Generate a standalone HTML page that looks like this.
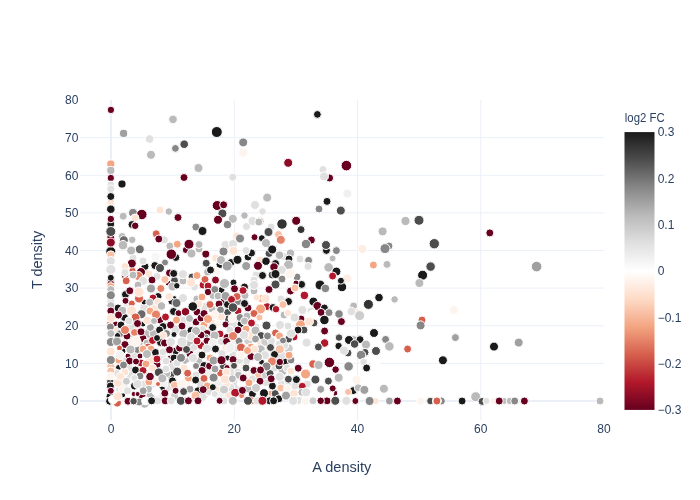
<!DOCTYPE html>
<html><head><meta charset="utf-8"><style>
html,body{margin:0;padding:0;background:#fff;width:700px;height:500px;overflow:hidden}
svg{display:block;will-change:transform}
text{font-family:"Liberation Sans",sans-serif;fill:#2a3f5f;font-size:12px}
</style></head><body>
<svg width="700" height="500" viewBox="0 0 700 500">
<defs><linearGradient id="cb" x1="0" y1="0" x2="0" y2="1"><stop offset="0.0" stop-color="rgb(26, 26, 26)"/><stop offset="0.1" stop-color="rgb(77, 77, 77)"/><stop offset="0.2" stop-color="rgb(135, 135, 135)"/><stop offset="0.3" stop-color="rgb(186, 186, 186)"/><stop offset="0.4" stop-color="rgb(224, 224, 224)"/><stop offset="0.5" stop-color="rgb(255, 255, 255)"/><stop offset="0.6" stop-color="rgb(253, 219, 199)"/><stop offset="0.7" stop-color="rgb(244, 165, 130)"/><stop offset="0.8" stop-color="rgb(214, 96, 77)"/><stop offset="0.9" stop-color="rgb(178, 24, 43)"/><stop offset="1.0" stop-color="rgb(103, 0, 31)"/></linearGradient>
<clipPath id="pa"><rect x="80" y="100" width="524" height="320"/></clipPath></defs>
<rect width="700" height="500" fill="#fff"/>
<g stroke="#ebf0f8" stroke-width="1"><line x1="80" x2="604" y1="363.38" y2="363.38"/><line x1="80" x2="604" y1="325.75" y2="325.75"/><line x1="80" x2="604" y1="288.12" y2="288.12"/><line x1="80" x2="604" y1="250.50" y2="250.50"/><line x1="80" x2="604" y1="212.88" y2="212.88"/><line x1="80" x2="604" y1="175.25" y2="175.25"/><line x1="80" x2="604" y1="137.62" y2="137.62"/><line y1="100" y2="420" x1="234.25" x2="234.25"/><line y1="100" y2="420" x1="357.50" x2="357.50"/><line y1="100" y2="420" x1="480.75" x2="480.75"/></g>
<g stroke="#ebf0f8" stroke-width="2"><line x1="111" x2="111" y1="100" y2="420"/><line x1="80" x2="604" y1="401" y2="401"/></g>
<g clip-path="url(#pa)" stroke="#fff" stroke-width="1"><circle cx="181.5" cy="382.5" r="4.75" fill="#fee4d5"/><circle cx="156.5" cy="392.5" r="4.75" fill="#cdcdcd"/><circle cx="261.5" cy="344.5" r="4.75" fill="#fee4d5"/><circle cx="119.5" cy="354.5" r="4.75" fill="#fee4d5"/><circle cx="232.5" cy="319.5" r="4.75" fill="#cdcdcd"/><circle cx="208.5" cy="397.5" r="4.75" fill="#ffffff"/><circle cx="183.5" cy="333.5" r="4.75" fill="#bababa"/><circle cx="240.5" cy="355.5" r="4.75" fill="#f0f0f0"/><circle cx="288.5" cy="348.5" r="4.75" fill="#cdcdcd"/><circle cx="293.5" cy="393.5" r="4.75" fill="#fee4d5"/><circle cx="288.5" cy="386.5" r="4.75" fill="#e0e0e0"/><circle cx="139.5" cy="306.5" r="4.75" fill="#ffffff"/><circle cx="218.5" cy="383.5" r="4.75" fill="#f0f0f0"/><circle cx="236.5" cy="384.5" r="4.75" fill="#e0e0e0"/><circle cx="226.5" cy="348.5" r="4.75" fill="#fee4d5"/><circle cx="215.5" cy="313.5" r="4.75" fill="#fef4ee"/><circle cx="232.5" cy="344.5" r="4.75" fill="#f0f0f0"/><circle cx="212.5" cy="341.5" r="4.75" fill="#e0e0e0"/><circle cx="248.5" cy="340.5" r="4.75" fill="#cdcdcd"/><circle cx="187.5" cy="362.5" r="4.75" fill="#bababa"/><circle cx="232.5" cy="324.5" r="4.75" fill="#e0e0e0"/><circle cx="171.5" cy="366.5" r="4.75" fill="#e0e0e0"/><circle cx="181.5" cy="377.5" r="4.75" fill="#ffffff"/><circle cx="218.5" cy="322.5" r="4.75" fill="#f0f0f0"/><circle cx="227.5" cy="395.5" r="4.75" fill="#fee4d5"/><circle cx="120.5" cy="389.5" r="4.75" fill="#e0e0e0"/><circle cx="144.5" cy="403.5" r="4.75" fill="#bababa"/><circle cx="252.5" cy="363.5" r="4.75" fill="#ffffff"/><circle cx="232.5" cy="371.5" r="4.75" fill="#e0e0e0"/><circle cx="208.5" cy="372.5" r="4.75" fill="#f0f0f0"/><circle cx="190.5" cy="366.5" r="4.75" fill="#ffffff"/><circle cx="168.5" cy="386.5" r="4.75" fill="#e0e0e0"/><circle cx="133.5" cy="338.5" r="4.75" fill="#cdcdcd"/><circle cx="281.5" cy="355.5" r="4.75" fill="#e0e0e0"/><circle cx="134.5" cy="355.5" r="4.75" fill="#e0e0e0"/><circle cx="233.5" cy="349.5" r="4.75" fill="#e0e0e0"/><circle cx="260.5" cy="349.5" r="4.75" fill="#bababa"/><circle cx="148.5" cy="333.5" r="4.75" fill="#bababa"/><circle cx="219.5" cy="327.5" r="4.75" fill="#ffffff"/><circle cx="245.5" cy="361.5" r="4.75" fill="#e0e0e0"/><circle cx="214.5" cy="319.5" r="4.75" fill="#fee4d5"/><circle cx="144.5" cy="307.5" r="4.75" fill="#e0e0e0"/><circle cx="155.5" cy="307.5" r="4.75" fill="#fee4d5"/><circle cx="166.5" cy="310.5" r="4.75" fill="#ffffff"/><circle cx="138.5" cy="343.5" r="4.75" fill="#bababa"/><circle cx="265.5" cy="341.5" r="4.75" fill="#cdcdcd"/><circle cx="189.5" cy="343.5" r="4.75" fill="#bababa"/><circle cx="203.5" cy="396.5" r="4.75" fill="#e0e0e0"/><circle cx="248.5" cy="374.5" r="4.75" fill="#fef4ee"/><circle cx="250.5" cy="335.5" r="4.75" fill="#fee4d5"/><circle cx="175.5" cy="329.5" r="4.75" fill="#e0e0e0"/><circle cx="130.5" cy="326.5" r="4.75" fill="#e0e0e0"/><circle cx="154.5" cy="387.5" r="4.75" fill="#e0e0e0"/><circle cx="150.5" cy="359.5" r="4.75" fill="#fee4d5"/><circle cx="130.5" cy="374.5" r="4.75" fill="#e0e0e0"/><circle cx="214.5" cy="399.5" r="4.25" fill="#fef4ee"/><circle cx="160.5" cy="396.5" r="4.25" fill="#f0f0f0"/><circle cx="174.5" cy="396.5" r="4.25" fill="#cdcdcd"/><circle cx="204.5" cy="306.5" r="4.25" fill="#e0e0e0"/><circle cx="282.5" cy="371.5" r="4.25" fill="#bababa"/><circle cx="240.5" cy="366.5" r="4.25" fill="#fef4ee"/><circle cx="128.5" cy="367.5" r="4.25" fill="#e0e0e0"/><circle cx="198.5" cy="361.5" r="4.25" fill="#bababa"/><circle cx="263.5" cy="375.5" r="4.25" fill="#cdcdcd"/><circle cx="154.5" cy="381.5" r="4.25" fill="#fef4ee"/><circle cx="123.5" cy="357.5" r="4.25" fill="#e0e0e0"/><circle cx="162.5" cy="357.5" r="4.25" fill="#e0e0e0"/><circle cx="241.5" cy="383.5" r="4.25" fill="#ffffff"/><circle cx="143.5" cy="384.5" r="4.25" fill="#e0e0e0"/><circle cx="163.5" cy="384.5" r="4.25" fill="#f0f0f0"/><circle cx="200.5" cy="383.5" r="4.25" fill="#e0e0e0"/><circle cx="186.5" cy="383.5" r="4.25" fill="#fef4ee"/><circle cx="196.5" cy="353.5" r="4.25" fill="#f0f0f0"/><circle cx="123.5" cy="385.5" r="4.25" fill="#e0e0e0"/><circle cx="284.5" cy="345.5" r="4.25" fill="#e0e0e0"/><circle cx="133.5" cy="344.5" r="4.25" fill="#e0e0e0"/><circle cx="230.5" cy="387.5" r="4.25" fill="#e0e0e0"/><circle cx="248.5" cy="388.5" r="4.25" fill="#bababa"/><circle cx="153.5" cy="333.5" r="4.25" fill="#bababa"/><circle cx="208.5" cy="391.5" r="4.25" fill="#e0e0e0"/><circle cx="217.5" cy="390.5" r="4.25" fill="#fee4d5"/><circle cx="187.5" cy="324.5" r="4.25" fill="#f0f0f0"/><circle cx="150.5" cy="394.5" r="4.25" fill="#bababa"/><circle cx="220.5" cy="395.5" r="4.25" fill="#f0f0f0"/><circle cx="126.5" cy="306.5" r="4.25" fill="#f0f0f0"/><circle cx="110.9" cy="109.9" r="3.7" fill="#67001f"/><circle cx="173" cy="119.4" r="4.3" fill="#bababa"/><circle cx="123.6" cy="133.4" r="4.1" fill="#a0a0a0"/><circle cx="149.6" cy="139" r="4.3" fill="#e0e0e0"/><circle cx="184.2" cy="144.2" r="4.3" fill="#4d4d4d"/><circle cx="175.4" cy="148.4" r="3.9" fill="#878787"/><circle cx="151" cy="154.8" r="4.5" fill="#bababa"/><circle cx="198.5" cy="168" r="4.5" fill="#bababa"/><circle cx="110.8" cy="164" r="4.1" fill="#f4a582"/><circle cx="110.8" cy="170.4" r="4.1" fill="#bababa"/><circle cx="110.8" cy="178" r="3.7" fill="#67001f"/><circle cx="184" cy="177.5" r="4" fill="#67001f"/><circle cx="122" cy="184" r="4.1" fill="#1a1a1a"/><circle cx="216.8" cy="132" r="5.5" fill="#1a1a1a"/><circle cx="243.2" cy="142.4" r="4.5" fill="#878787"/><circle cx="243.2" cy="152.6" r="4.5" fill="#fef4ee"/><circle cx="288.2" cy="162.8" r="4.5" fill="#8c0c25"/><circle cx="232.8" cy="177.2" r="4" fill="#e0e0e0"/><circle cx="267.2" cy="197.6" r="4.5" fill="#bababa"/><circle cx="317.4" cy="114.4" r="3.9" fill="#1a1a1a"/><circle cx="346.4" cy="165.6" r="5.3" fill="#67001f"/><circle cx="323" cy="169.6" r="4" fill="#e0e0e0"/><circle cx="329.6" cy="178" r="4" fill="#67001f"/><circle cx="324" cy="176.4" r="4.5" fill="#e0e0e0"/><circle cx="347.4" cy="193.6" r="4.5" fill="#f0f0f0"/><circle cx="405.5" cy="221" r="4.6" fill="#bababa"/><circle cx="419" cy="220.3" r="5" fill="#4d4d4d"/><circle cx="434.3" cy="243.7" r="5.2" fill="#4d4d4d"/><circle cx="489.8" cy="232.9" r="4" fill="#67001f"/><circle cx="536.6" cy="266.6" r="5.3" fill="#a0a0a0"/><circle cx="110.8" cy="185" r="4" fill="#e0e0e0"/><circle cx="110.8" cy="188.8" r="4" fill="#e0e0e0"/><circle cx="110.8" cy="202.2" r="4" fill="#fee4d5"/><circle cx="110.8" cy="196.5" r="4" fill="#1a1a1a"/><circle cx="110.8" cy="214.5" r="4" fill="#ffffff"/><circle cx="110.8" cy="209.2" r="4.25" fill="#1a1a1a"/><circle cx="110.8" cy="224" r="4" fill="#1a1a1a"/><circle cx="110.8" cy="219" r="3.75" fill="#67001f"/><circle cx="123.2" cy="216.2" r="4" fill="#bababa"/><circle cx="133" cy="212.8" r="4.5" fill="#878787"/><circle cx="141.8" cy="214.5" r="5.25" fill="#67001f"/><circle cx="135" cy="218" r="4" fill="#fee4d5"/><circle cx="132" cy="224.5" r="4" fill="#1a1a1a"/><circle cx="135.2" cy="225.8" r="3.75" fill="#67001f"/><circle cx="160" cy="210" r="4" fill="#fee4d5"/><circle cx="168.8" cy="211.5" r="3.75" fill="#bababa"/><circle cx="178" cy="217.5" r="4" fill="#67001f"/><circle cx="195.8" cy="227" r="4" fill="#878787"/><circle cx="217.2" cy="205.5" r="5" fill="#67001f"/><circle cx="223.6" cy="204.8" r="4" fill="#67001f"/><circle cx="222.4" cy="213.5" r="4.5" fill="#4d4d4d"/><circle cx="218" cy="219.8" r="4.5" fill="#67001f"/><circle cx="232.8" cy="218.8" r="4.5" fill="#bababa"/><circle cx="227.5" cy="224.6" r="4.25" fill="#878787"/><circle cx="244.5" cy="215.5" r="3.75" fill="#bababa"/><circle cx="246.5" cy="226.5" r="4" fill="#e0e0e0"/><circle cx="255" cy="205" r="4.5" fill="#e0e0e0"/><circle cx="262.5" cy="211.5" r="3.75" fill="#e0e0e0"/><circle cx="252.5" cy="221" r="4.5" fill="#e0e0e0"/><circle cx="260" cy="221.5" r="4" fill="#d6604d"/><circle cx="258.8" cy="222" r="4" fill="#bababa"/><circle cx="282" cy="224" r="5.25" fill="#333333"/><circle cx="296.2" cy="220.8" r="4.5" fill="#67001f"/><circle cx="271" cy="227" r="4" fill="#e0e0e0"/><circle cx="327" cy="201.4" r="4" fill="#1a1a1a"/><circle cx="319" cy="209" r="4" fill="#878787"/><circle cx="340.8" cy="210.6" r="4.5" fill="#4d4d4d"/><circle cx="301" cy="229.6" r="4" fill="#333333"/><circle cx="311.4" cy="240" r="4" fill="#67001f"/><circle cx="306" cy="244" r="4.75" fill="#878787"/><circle cx="326.4" cy="250.4" r="4" fill="#1a1a1a"/><circle cx="326" cy="245" r="4.5" fill="#4d4d4d"/><circle cx="336.4" cy="250.6" r="4" fill="#878787"/><circle cx="332.6" cy="258.4" r="3.5" fill="#bababa"/><circle cx="308.6" cy="260.4" r="4" fill="#878787"/><circle cx="300" cy="259" r="4" fill="#e0e0e0"/><circle cx="308" cy="266.4" r="4" fill="#e0e0e0"/><circle cx="328.6" cy="267.4" r="4.75" fill="#bababa"/><circle cx="336.4" cy="271.6" r="4.5" fill="#1a1a1a"/><circle cx="332.6" cy="276" r="4" fill="#b2182b"/><circle cx="347" cy="278.6" r="4.5" fill="#feede3"/><circle cx="382.6" cy="231.4" r="4.5" fill="#bababa"/><circle cx="362.4" cy="249" r="4.5" fill="#feede3"/><circle cx="389" cy="246" r="4" fill="#878787"/><circle cx="385" cy="248.6" r="5" fill="#878787"/><circle cx="373.4" cy="265" r="4" fill="#f4a582"/><circle cx="387" cy="264.4" r="4" fill="#bababa"/><circle cx="430.6" cy="266.6" r="4.75" fill="#4d4d4d"/><circle cx="422.6" cy="275.2" r="5" fill="#1a1a1a"/><circle cx="419.4" cy="283" r="4.5" fill="#bababa"/><circle cx="454" cy="310" r="4.5" fill="#fef4ee"/><circle cx="422" cy="320" r="4" fill="#d6604d"/><circle cx="420.6" cy="325.4" r="4.5" fill="#878787"/><circle cx="455.4" cy="337.6" r="4" fill="#a0a0a0"/><circle cx="407.6" cy="349" r="4" fill="#d6604d"/><circle cx="494" cy="346.6" r="4.5" fill="#1a1a1a"/><circle cx="518.7" cy="342.6" r="4.5" fill="#a0a0a0"/><circle cx="420.7" cy="401" r="4" fill="#fef4ee"/><circle cx="430.4" cy="401" r="3.75" fill="#4d4d4d"/><circle cx="441.4" cy="401" r="4" fill="#878787"/><circle cx="436.9" cy="401" r="4.5" fill="#fee4d5"/><circle cx="436.9" cy="401" r="4" fill="#d6604d"/><circle cx="462.1" cy="401" r="4" fill="#1a1a1a"/><circle cx="475.7" cy="396.7" r="5" fill="#bababa"/><circle cx="482.1" cy="401.4" r="4" fill="#4d4d4d"/><circle cx="486.4" cy="401" r="3.5" fill="#e0e0e0"/><circle cx="493.6" cy="401" r="3.5" fill="#fef4ee"/><circle cx="504.1" cy="401" r="3.5" fill="#bababa"/><circle cx="499.2" cy="401" r="4" fill="#67001f"/><circle cx="509.9" cy="401" r="3.75" fill="#bababa"/><circle cx="514.7" cy="401" r="4" fill="#878787"/><circle cx="524.4" cy="401" r="4" fill="#67001f"/><circle cx="600" cy="401" r="4" fill="#bababa"/><circle cx="301.6" cy="284.4" r="4" fill="#1a1a1a"/><circle cx="320" cy="285" r="5" fill="#1a1a1a"/><circle cx="325.4" cy="288.4" r="4.25" fill="#878787"/><circle cx="342" cy="287" r="4.75" fill="#1a1a1a"/><circle cx="340.9" cy="280.7" r="3.5" fill="#1a1a1a"/><circle cx="304.4" cy="295.4" r="4.25" fill="#b2182b"/><circle cx="313.4" cy="301.6" r="4.5" fill="#1a1a1a"/><circle cx="317.4" cy="306" r="4.5" fill="#67001f"/><circle cx="324.4" cy="308" r="4" fill="#1a1a1a"/><circle cx="302.4" cy="310" r="4.5" fill="#e0e0e0"/><circle cx="311" cy="311" r="4" fill="#e0e0e0"/><circle cx="321" cy="312.4" r="4" fill="#67001f"/><circle cx="329" cy="312.6" r="4" fill="#878787"/><circle cx="313" cy="314.4" r="4.5" fill="#ffffff"/><circle cx="301" cy="319" r="4" fill="#67001f"/><circle cx="314" cy="323" r="4" fill="#4d4d4d"/><circle cx="324.4" cy="320" r="4.75" fill="#1a1a1a"/><circle cx="309" cy="321.6" r="4.5" fill="#fee4d5"/><circle cx="300.5" cy="325" r="5" fill="#f4a582"/><circle cx="304" cy="330" r="4" fill="#4d4d4d"/><circle cx="339" cy="314" r="4.25" fill="#878787"/><circle cx="341.4" cy="321.6" r="4" fill="#67001f"/><circle cx="353.6" cy="306" r="4" fill="#bababa"/><circle cx="357" cy="311.6" r="3" fill="#fee4d5"/><circle cx="351.4" cy="311.4" r="4.25" fill="#e0e0e0"/><circle cx="359.6" cy="315.6" r="5" fill="#cdcdcd"/><circle cx="368.4" cy="304.4" r="5" fill="#333333"/><circle cx="379" cy="297.6" r="4.25" fill="#1a1a1a"/><circle cx="394.6" cy="299.4" r="3.75" fill="#bababa"/><circle cx="324.6" cy="331" r="4" fill="#67001f"/><circle cx="374" cy="333" r="4.5" fill="#1a1a1a"/><circle cx="306.6" cy="342.6" r="4.5" fill="#e0e0e0"/><circle cx="324.6" cy="343" r="4.25" fill="#b2182b"/><circle cx="318.4" cy="347" r="4" fill="#4d4d4d"/><circle cx="339" cy="337.6" r="3.75" fill="#4d4d4d"/><circle cx="338.6" cy="346" r="3.75" fill="#1a1a1a"/><circle cx="354" cy="339.6" r="4" fill="#bababa"/><circle cx="349" cy="340" r="4.5" fill="#1a1a1a"/><circle cx="360" cy="339.6" r="4" fill="#1a1a1a"/><circle cx="354.6" cy="344" r="4.25" fill="#4d4d4d"/><circle cx="366" cy="344.6" r="4.5" fill="#bababa"/><circle cx="385.6" cy="339.4" r="4" fill="#878787"/><circle cx="389.4" cy="346.4" r="4.75" fill="#bababa"/><circle cx="348" cy="353" r="4" fill="#4d4d4d"/><circle cx="344" cy="350.6" r="4.5" fill="#e0e0e0"/><circle cx="376" cy="351" r="4.5" fill="#4d4d4d"/><circle cx="365" cy="352.4" r="4" fill="#4d4d4d"/><circle cx="361" cy="355" r="4.75" fill="#878787"/><circle cx="363.6" cy="362" r="3.75" fill="#e0e0e0"/><circle cx="376" cy="361" r="5" fill="#ffffff"/><circle cx="298.2" cy="368.2" r="4" fill="#67001f"/><circle cx="329.4" cy="362.4" r="5.25" fill="#67001f"/><circle cx="313" cy="364" r="4.25" fill="#d6604d"/><circle cx="318.6" cy="365" r="4.5" fill="#bababa"/><circle cx="335.6" cy="369.6" r="3.75" fill="#67001f"/><circle cx="348.6" cy="366.4" r="4.75" fill="#878787"/><circle cx="366.6" cy="368" r="4" fill="#1a1a1a"/><circle cx="305.6" cy="374" r="5" fill="#f4a582"/><circle cx="110.8" cy="237" r="4" fill="#67001f"/><circle cx="110.8" cy="247" r="4" fill="#fee4d5"/><circle cx="110.8" cy="251.5" r="5" fill="#1a1a1a"/><circle cx="122.2" cy="236.5" r="4" fill="#bababa"/><circle cx="133" cy="258" r="4" fill="#e0e0e0"/><circle cx="132.5" cy="270.5" r="3.5" fill="#d6604d"/><circle cx="125" cy="275" r="4" fill="#67001f"/><circle cx="149" cy="274" r="4" fill="#fee4d5"/><circle cx="118" cy="270" r="4" fill="#ffffff"/><circle cx="164.5" cy="239.8" r="4" fill="#e0e0e0"/><circle cx="185.8" cy="250" r="3.5" fill="#67001f"/><circle cx="199" cy="249" r="4" fill="#bababa"/><circle cx="199" cy="244.5" r="4" fill="#bababa"/><circle cx="175.8" cy="257.5" r="4" fill="#1a1a1a"/><circle cx="169.5" cy="273" r="4" fill="#67001f"/><circle cx="157" cy="276.5" r="4" fill="#e0e0e0"/><circle cx="192" cy="277" r="4" fill="#4d4d4d"/><circle cx="197" cy="275.5" r="4" fill="#f4a582"/><circle cx="236.5" cy="236" r="4" fill="#fee4d5"/><circle cx="220" cy="264.5" r="4" fill="#1a1a1a"/><circle cx="231" cy="262.5" r="4" fill="#1a1a1a"/><circle cx="248" cy="257" r="4" fill="#1a1a1a"/><circle cx="207.5" cy="272" r="4" fill="#bababa"/><circle cx="216.5" cy="271.5" r="4" fill="#fef4ee"/><circle cx="269" cy="253.5" r="4" fill="#4d4d4d"/><circle cx="251.5" cy="253" r="4" fill="#1a1a1a"/><circle cx="284" cy="256.5" r="4" fill="#e0e0e0"/><circle cx="260" cy="260" r="4" fill="#fee4d5"/><circle cx="275.5" cy="263.5" r="4" fill="#1a1a1a"/><circle cx="256" cy="275" r="4" fill="#e0e0e0"/><circle cx="297" cy="277" r="4" fill="#878787"/><circle cx="272" cy="275" r="4" fill="#4d4d4d"/><circle cx="110.8" cy="281" r="4" fill="#d6604d"/><circle cx="110.8" cy="284" r="4" fill="#67001f"/><circle cx="110.8" cy="286.5" r="4" fill="#f4a582"/><circle cx="110.8" cy="289.5" r="4" fill="#bababa"/><circle cx="110.8" cy="301.5" r="4" fill="#e0e0e0"/><circle cx="110.8" cy="323" r="4" fill="#d6604d"/><circle cx="125.5" cy="294.5" r="4" fill="#1a1a1a"/><circle cx="144" cy="302" r="3" fill="#1a1a1a"/><circle cx="118" cy="308" r="4" fill="#1a1a1a"/><circle cx="124.5" cy="317.5" r="4" fill="#1a1a1a"/><circle cx="116" cy="325" r="4" fill="#67001f"/><circle cx="143" cy="324" r="3" fill="#1a1a1a"/><circle cx="152" cy="280" r="4" fill="#67001f"/><circle cx="174.5" cy="280.5" r="4" fill="#4d4d4d"/><circle cx="183" cy="281" r="4" fill="#bababa"/><circle cx="168" cy="283" r="3" fill="#67001f"/><circle cx="194.5" cy="287" r="4" fill="#e0e0e0"/><circle cx="196.8" cy="299" r="4" fill="#bababa"/><circle cx="158" cy="296.5" r="4" fill="#1a1a1a"/><circle cx="153" cy="298" r="4" fill="#b2182b"/><circle cx="149.7" cy="302.3" r="4" fill="#bababa"/><circle cx="174" cy="298.5" r="3" fill="#1a1a1a"/><circle cx="171.5" cy="301.5" r="3.5" fill="#1a1a1a"/><circle cx="199" cy="304" r="4" fill="#fee4d5"/><circle cx="197" cy="312" r="4" fill="#67001f"/><circle cx="160" cy="320" r="4" fill="#67001f"/><circle cx="183" cy="320" r="4" fill="#e0e0e0"/><circle cx="182" cy="326" r="4" fill="#67001f"/><circle cx="196" cy="322" r="4" fill="#67001f"/><circle cx="163" cy="326.5" r="4" fill="#1a1a1a"/><circle cx="150" cy="311" r="4" fill="#f4a582"/><circle cx="203" cy="285" r="4" fill="#b2182b"/><circle cx="244.5" cy="287" r="4" fill="#1a1a1a"/><circle cx="221.5" cy="290" r="3.5" fill="#1a1a1a"/><circle cx="213" cy="295.5" r="4" fill="#bababa"/><circle cx="245" cy="295.5" r="4" fill="#bababa"/><circle cx="224" cy="301" r="4" fill="#67001f"/><circle cx="238" cy="301.5" r="4" fill="#878787"/><circle cx="227.5" cy="304.5" r="4" fill="#1a1a1a"/><circle cx="212" cy="309" r="4" fill="#bababa"/><circle cx="227.5" cy="312.5" r="4" fill="#4d4d4d"/><circle cx="238" cy="311" r="4" fill="#b2182b"/><circle cx="248" cy="308" r="4" fill="#67001f"/><circle cx="241" cy="324" r="4" fill="#1a1a1a"/><circle cx="201" cy="318" r="4" fill="#67001f"/><circle cx="228" cy="319" r="4" fill="#4d4d4d"/><circle cx="240" cy="317.5" r="4" fill="#878787"/><circle cx="247" cy="316" r="4" fill="#bababa"/><circle cx="204" cy="325" r="4" fill="#f4a582"/><circle cx="218" cy="324" r="4" fill="#fef4ee"/><circle cx="254" cy="280" r="4" fill="#e0e0e0"/><circle cx="254" cy="291" r="4" fill="#bababa"/><circle cx="282" cy="279" r="4" fill="#878787"/><circle cx="296" cy="283" r="3" fill="#67001f"/><circle cx="261.5" cy="298.5" r="4" fill="#f4a582"/><circle cx="281" cy="299" r="4" fill="#e0e0e0"/><circle cx="267" cy="306.5" r="4" fill="#b2182b"/><circle cx="273" cy="307.5" r="4" fill="#1a1a1a"/><circle cx="284" cy="315" r="4" fill="#bababa"/><circle cx="256" cy="327" r="4" fill="#e0e0e0"/><circle cx="288" cy="326" r="4" fill="#e0e0e0"/><circle cx="117.5" cy="330" r="4" fill="#fee4d5"/><circle cx="120.5" cy="333.5" r="4" fill="#878787"/><circle cx="127" cy="336" r="4" fill="#67001f"/><circle cx="117.5" cy="335.5" r="3" fill="#1a1a1a"/><circle cx="143" cy="338.5" r="4" fill="#67001f"/><circle cx="147" cy="343" r="4" fill="#bababa"/><circle cx="137.5" cy="349.5" r="4" fill="#878787"/><circle cx="123" cy="351" r="3" fill="#1a1a1a"/><circle cx="148" cy="347" r="4" fill="#d6604d"/><circle cx="128" cy="356" r="3" fill="#67001f"/><circle cx="140" cy="356" r="3" fill="#67001f"/><circle cx="118.5" cy="360" r="4" fill="#f4a582"/><circle cx="141" cy="363" r="4" fill="#b2182b"/><circle cx="118.5" cy="367.5" r="3" fill="#1a1a1a"/><circle cx="110.8" cy="366.5" r="4" fill="#f8c0a4"/><circle cx="125" cy="372" r="4" fill="#fee4d5"/><circle cx="150.4" cy="327.4" r="4" fill="#a0a0a0"/><circle cx="159.5" cy="330" r="4" fill="#1a1a1a"/><circle cx="191" cy="330.5" r="4" fill="#1a1a1a"/><circle cx="166.5" cy="333.5" r="4" fill="#878787"/><circle cx="174" cy="334.5" r="3" fill="#1a1a1a"/><circle cx="163" cy="335.5" r="4" fill="#fee4d5"/><circle cx="152.5" cy="340.5" r="4" fill="#b2182b"/><circle cx="160.5" cy="342.5" r="4" fill="#1a1a1a"/><circle cx="164.5" cy="343" r="4" fill="#67001f"/><circle cx="151" cy="349" r="4" fill="#f4a582"/><circle cx="175.5" cy="351" r="4" fill="#1a1a1a"/><circle cx="179.5" cy="348" r="4" fill="#67001f"/><circle cx="194" cy="347.5" r="4" fill="#e0e0e0"/><circle cx="155.5" cy="352.5" r="4" fill="#1a1a1a"/><circle cx="163" cy="352" r="4" fill="#e0e0e0"/><circle cx="190" cy="354" r="4" fill="#67001f"/><circle cx="170.5" cy="359" r="4" fill="#67001f"/><circle cx="174" cy="358" r="4" fill="#1a1a1a"/><circle cx="157" cy="364.5" r="4" fill="#67001f"/><circle cx="166" cy="361" r="4" fill="#e0e0e0"/><circle cx="177" cy="363" r="4" fill="#e0e0e0"/><circle cx="184" cy="368" r="4" fill="#fee4d5"/><circle cx="171" cy="375" r="4" fill="#4d4d4d"/><circle cx="196" cy="375" r="4" fill="#e0e0e0"/><circle cx="202.5" cy="329.5" r="4" fill="#e0e0e0"/><circle cx="220" cy="334" r="4" fill="#b2182b"/><circle cx="207" cy="333.5" r="4" fill="#67001f"/><circle cx="206" cy="337" r="3" fill="#878787"/><circle cx="201" cy="335" r="4" fill="#67001f"/><circle cx="227" cy="337.5" r="4" fill="#67001f"/><circle cx="238" cy="330" r="4" fill="#67001f"/><circle cx="230" cy="330" r="4" fill="#e0e0e0"/><circle cx="246" cy="329" r="4" fill="#f4a582"/><circle cx="207" cy="341" r="4" fill="#67001f"/><circle cx="221" cy="341.5" r="4" fill="#e0e0e0"/><circle cx="226.5" cy="341.5" r="4" fill="#67001f"/><circle cx="239" cy="341" r="4" fill="#878787"/><circle cx="201" cy="345.5" r="4" fill="#b2182b"/><circle cx="222" cy="353.5" r="4" fill="#e0e0e0"/><circle cx="233" cy="354.5" r="4" fill="#e0e0e0"/><circle cx="210" cy="358" r="4" fill="#f4a582"/><circle cx="227.5" cy="358" r="3" fill="#1a1a1a"/><circle cx="239.5" cy="360.5" r="4" fill="#e0e0e0"/><circle cx="223.5" cy="366.5" r="4" fill="#4d4d4d"/><circle cx="227" cy="367.5" r="3" fill="#67001f"/><circle cx="204" cy="365.5" r="4" fill="#1a1a1a"/><circle cx="209.5" cy="366" r="4" fill="#67001f"/><circle cx="220.5" cy="373" r="4" fill="#d6604d"/><circle cx="226.5" cy="372" r="4" fill="#fee4d5"/><circle cx="238" cy="372" r="4" fill="#e0e0e0"/><circle cx="275.5" cy="333" r="4" fill="#d6604d"/><circle cx="294" cy="337" r="4" fill="#b2182b"/><circle cx="298" cy="330" r="4" fill="#1a1a1a"/><circle cx="288.5" cy="339" r="4" fill="#4d4d4d"/><circle cx="271.5" cy="341" r="4" fill="#e0e0e0"/><circle cx="279" cy="344" r="4" fill="#e0e0e0"/><circle cx="251" cy="347" r="4" fill="#f4a582"/><circle cx="254.5" cy="349" r="4" fill="#fee4d5"/><circle cx="251" cy="356.5" r="4" fill="#67001f"/><circle cx="286" cy="362" r="4" fill="#1a1a1a"/><circle cx="291" cy="360" r="4" fill="#878787"/><circle cx="261.5" cy="362" r="3" fill="#1a1a1a"/><circle cx="254" cy="370.5" r="4" fill="#67001f"/><circle cx="275" cy="368" r="4" fill="#e0e0e0"/><circle cx="279" cy="366" r="4" fill="#4d4d4d"/><circle cx="287" cy="368" r="4" fill="#e0e0e0"/><circle cx="270" cy="373.5" r="4" fill="#4d4d4d"/><circle cx="110.4" cy="382" r="4" fill="#4d4d4d"/><circle cx="110.4" cy="386" r="4" fill="#1a1a1a"/><circle cx="110" cy="396.4" r="4" fill="#1a1a1a"/><circle cx="109.6" cy="401.2" r="4" fill="#1a1a1a"/><circle cx="117.2" cy="402.8" r="4.25" fill="#d6604d"/><circle cx="116.4" cy="373.2" r="4" fill="#e0e0e0"/><circle cx="122" cy="394" r="4" fill="#1a1a1a"/><circle cx="122.4" cy="389.2" r="4" fill="#fef4ee"/><circle cx="134.4" cy="386" r="4" fill="#1a1a1a"/><circle cx="148.8" cy="382" r="4" fill="#f4a582"/><circle cx="142.4" cy="397.2" r="4" fill="#67001f"/><circle cx="128" cy="401.2" r="4" fill="#67001f"/><circle cx="139.2" cy="402" r="4" fill="#878787"/><circle cx="145.6" cy="400.8" r="4" fill="#ffffff"/><circle cx="127.6" cy="390.8" r="4" fill="#e0e0e0"/><circle cx="148.8" cy="389.2" r="4" fill="#bababa"/><circle cx="166.8" cy="373.6" r="4" fill="#bababa"/><circle cx="188.4" cy="378" r="4" fill="#f4a582"/><circle cx="172.4" cy="380.8" r="4" fill="#1a1a1a"/><circle cx="162" cy="390" r="4" fill="#1a1a1a"/><circle cx="164.8" cy="393.2" r="4" fill="#67001f"/><circle cx="157.6" cy="400.8" r="4" fill="#e0e0e0"/><circle cx="198" cy="390.8" r="4" fill="#1a1a1a"/><circle cx="238.4" cy="375.2" r="4" fill="#bababa"/><circle cx="224" cy="400.8" r="4" fill="#e0e0e0"/><circle cx="241.6" cy="395.6" r="3" fill="#e58268"/><circle cx="207.2" cy="386" r="4" fill="#f4a582"/><circle cx="226.4" cy="384.4" r="4" fill="#fee4d5"/><circle cx="258" cy="376.4" r="4" fill="#f8c0a4"/><circle cx="252.4" cy="378.8" r="4" fill="#e0e0e0"/><circle cx="249" cy="382.8" r="4" fill="#f4a582"/><circle cx="266" cy="382.8" r="4" fill="#e0e0e0"/><circle cx="272.4" cy="386" r="4" fill="#1a1a1a"/><circle cx="281.2" cy="384" r="4" fill="#e0e0e0"/><circle cx="294.8" cy="386" r="4" fill="#e0e0e0"/><circle cx="270.8" cy="393.2" r="3" fill="#f4a582"/><circle cx="275.2" cy="393.6" r="4" fill="#4d4d4d"/><circle cx="278.8" cy="398.8" r="4" fill="#1a1a1a"/><circle cx="252.4" cy="394" r="4" fill="#1a1a1a"/><circle cx="252" cy="400.8" r="4" fill="#e58268"/><circle cx="257.2" cy="400.8" r="4" fill="#e0e0e0"/><circle cx="269.6" cy="400.8" r="4" fill="#1a1a1a"/><circle cx="298.8" cy="400.4" r="4" fill="#e0e0e0"/><circle cx="307.4" cy="384.1" r="4" fill="#e0e0e0"/><circle cx="302.3" cy="386.3" r="4" fill="#b2182b"/><circle cx="334.8" cy="393.1" r="3" fill="#67001f"/><circle cx="301.9" cy="392.3" r="4" fill="#bababa"/><circle cx="353.3" cy="390.6" r="4" fill="#1a1a1a"/><circle cx="305.3" cy="401.3" r="4" fill="#fef4ee"/><circle cx="327.1" cy="400.8" r="4" fill="#67001f"/><circle cx="375.8" cy="401" r="3.5" fill="#fee4d5"/><circle cx="110.8" cy="231.5" r="5" fill="#4d4d4d"/><circle cx="110.8" cy="242.5" r="4.5" fill="#8c0c25"/><circle cx="110.8" cy="254.8" r="4" fill="#f8c0a4"/><circle cx="110.8" cy="261" r="4.5" fill="#e0e0e0"/><circle cx="110.8" cy="269.5" r="5" fill="#e0e0e0"/><circle cx="110.8" cy="277.8" r="3.5" fill="#1a1a1a"/><circle cx="123.8" cy="240.2" r="4.5" fill="#6a6a6a"/><circle cx="123" cy="245.2" r="4.75" fill="#bababa"/><circle cx="132.2" cy="239.8" r="3.75" fill="#bababa"/><circle cx="131.2" cy="250.5" r="4.5" fill="#bababa"/><circle cx="139.8" cy="249.3" r="4.5" fill="#6a6a6a"/><circle cx="131.8" cy="263.5" r="4.5" fill="#67001f"/><circle cx="125" cy="266.5" r="4" fill="#fee4d5"/><circle cx="145" cy="266.5" r="4" fill="#1a1a1a"/><circle cx="143" cy="261" r="4" fill="#e0e0e0"/><circle cx="141" cy="272" r="4.5" fill="#67001f"/><circle cx="138.4" cy="276" r="4.5" fill="#e58268"/><circle cx="133" cy="275" r="4" fill="#bababa"/><circle cx="125" cy="272.5" r="4" fill="#e0e0e0"/><circle cx="156.2" cy="233.8" r="4" fill="#d6604d"/><circle cx="158.8" cy="239" r="4" fill="#67001f"/><circle cx="169.8" cy="246" r="4" fill="#bababa"/><circle cx="177.3" cy="244.2" r="4" fill="#f4a582"/><circle cx="189" cy="244.2" r="5" fill="#67001f"/><circle cx="191.5" cy="253.5" r="4.5" fill="#bababa"/><circle cx="171.3" cy="254.2" r="5.25" fill="#67001f"/><circle cx="155.5" cy="256.5" r="4.5" fill="#f7f7f7"/><circle cx="165" cy="262.5" r="3.5" fill="#878787"/><circle cx="154.8" cy="265.5" r="4" fill="#1a1a1a"/><circle cx="160" cy="268" r="4.5" fill="#4d4d4d"/><circle cx="173.7" cy="273.5" r="4" fill="#1a1a1a"/><circle cx="183" cy="274.2" r="4.5" fill="#e0e0e0"/><circle cx="202.5" cy="231" r="4.5" fill="#1a1a1a"/><circle cx="205.8" cy="254.2" r="4" fill="#67001f"/><circle cx="240" cy="238.5" r="4.5" fill="#878787"/><circle cx="225.5" cy="245" r="4.5" fill="#e0e0e0"/><circle cx="233" cy="244" r="4.5" fill="#e0e0e0"/><circle cx="223.5" cy="251.5" r="4.5" fill="#878787"/><circle cx="233.5" cy="250.8" r="4.5" fill="#fee4d5"/><circle cx="246" cy="250.5" r="4" fill="#e0e0e0"/><circle cx="215.5" cy="258" r="4" fill="#fee4d5"/><circle cx="221" cy="260" r="4.5" fill="#bababa"/><circle cx="237.5" cy="259.8" r="4.5" fill="#1a1a1a"/><circle cx="227.2" cy="266" r="5" fill="#a0a0a0"/><circle cx="246.2" cy="266" r="4.5" fill="#a0a0a0"/><circle cx="206.2" cy="263.2" r="4" fill="#4d4d4d"/><circle cx="210.5" cy="270" r="4" fill="#1a1a1a"/><circle cx="268.5" cy="232" r="4.5" fill="#4d4d4d"/><circle cx="254.5" cy="237.2" r="3.5" fill="#67001f"/><circle cx="261.8" cy="238.2" r="3.5" fill="#1a1a1a"/><circle cx="278.5" cy="234.5" r="4" fill="#f8c0a4"/><circle cx="280.8" cy="239.8" r="4.5" fill="#e58268"/><circle cx="266" cy="243" r="4.5" fill="#bababa"/><circle cx="272.2" cy="249.5" r="4.5" fill="#1a1a1a"/><circle cx="279.5" cy="255.2" r="4.25" fill="#bababa"/><circle cx="290.5" cy="253.2" r="4.25" fill="#bababa"/><circle cx="289" cy="259" r="4" fill="#1a1a1a"/><circle cx="266" cy="261.2" r="4.25" fill="#1a1a1a"/><circle cx="258" cy="265.8" r="4.5" fill="#67001f"/><circle cx="274" cy="267" r="4.25" fill="#67001f"/><circle cx="288.5" cy="265" r="5" fill="#bababa"/><circle cx="282" cy="270" r="4.5" fill="#e0e0e0"/><circle cx="290" cy="274" r="5" fill="#fef4ee"/><circle cx="275.5" cy="274" r="4.5" fill="#1a1a1a"/><circle cx="262.5" cy="275.5" r="4" fill="#1a1a1a"/><circle cx="110.8" cy="295.2" r="4.5" fill="#878787"/><circle cx="110.8" cy="305.5" r="4" fill="#bababa"/><circle cx="110.8" cy="311" r="4" fill="#67001f"/><circle cx="110.8" cy="318" r="4.5" fill="#fee4d5"/><circle cx="110.4" cy="327" r="4" fill="#878787"/><circle cx="126.2" cy="280.8" r="4" fill="#d6604d"/><circle cx="143" cy="281" r="4.5" fill="#e0e0e0"/><circle cx="138" cy="285" r="4" fill="#bababa"/><circle cx="129.8" cy="290.8" r="4" fill="#67001f"/><circle cx="139" cy="298.5" r="4.5" fill="#d6604d"/><circle cx="139" cy="292" r="5" fill="#fee4d5"/><circle cx="125.5" cy="300.8" r="3.5" fill="#67001f"/><circle cx="131.8" cy="303.5" r="3.5" fill="#d6604d"/><circle cx="122.5" cy="310.5" r="4.25" fill="#bababa"/><circle cx="131.5" cy="310.5" r="5" fill="#fee4d5"/><circle cx="118.5" cy="315" r="4" fill="#67001f"/><circle cx="141.5" cy="314.2" r="4.5" fill="#6a6a6a"/><circle cx="135.5" cy="317.5" r="4.5" fill="#d6604d"/><circle cx="147.3" cy="320.5" r="4.25" fill="#fee4d5"/><circle cx="129" cy="321" r="4" fill="#e0e0e0"/><circle cx="137.5" cy="323.5" r="4" fill="#67001f"/><circle cx="121" cy="325" r="4" fill="#1a1a1a"/><circle cx="165" cy="279.5" r="4" fill="#f8c0a4"/><circle cx="191" cy="282.5" r="4.5" fill="#fee4d5"/><circle cx="151" cy="288.5" r="4.5" fill="#a0a0a0"/><circle cx="160.8" cy="288.5" r="4" fill="#e58268"/><circle cx="172.5" cy="286.5" r="4.5" fill="#bababa"/><circle cx="176.8" cy="285.8" r="3.25" fill="#1a1a1a"/><circle cx="169" cy="296.5" r="4" fill="#fee4d5"/><circle cx="183" cy="298" r="4.5" fill="#e0e0e0"/><circle cx="158" cy="302" r="4" fill="#fee4d5"/><circle cx="176.5" cy="303" r="4.5" fill="#6a6a6a"/><circle cx="161.5" cy="306" r="4.25" fill="#bababa"/><circle cx="192.8" cy="306.5" r="4.75" fill="#1a1a1a"/><circle cx="173.5" cy="311.5" r="4" fill="#1a1a1a"/><circle cx="178.5" cy="313.2" r="3.5" fill="#67001f"/><circle cx="185.5" cy="311.8" r="4.25" fill="#8c0c25"/><circle cx="156" cy="314.5" r="4.5" fill="#e58268"/><circle cx="165.5" cy="317" r="4" fill="#b2182b"/><circle cx="176.5" cy="320" r="4" fill="#f4a582"/><circle cx="189.5" cy="318.5" r="4" fill="#bababa"/><circle cx="154" cy="321" r="3.5" fill="#bababa"/><circle cx="170.5" cy="325" r="4" fill="#67001f"/><circle cx="205" cy="279.5" r="4" fill="#d6604d"/><circle cx="215.5" cy="280" r="4" fill="#8c0c25"/><circle cx="224.5" cy="283.5" r="5" fill="#bababa"/><circle cx="233.5" cy="282.5" r="3.5" fill="#1a1a1a"/><circle cx="208" cy="286" r="4" fill="#b2182b"/><circle cx="234.5" cy="288.8" r="4" fill="#67001f"/><circle cx="243" cy="290.5" r="4" fill="#b2182b"/><circle cx="208" cy="292" r="3.75" fill="#67001f"/><circle cx="214.8" cy="289.5" r="4" fill="#878787"/><circle cx="218" cy="296" r="4" fill="#bababa"/><circle cx="225.5" cy="296" r="4.5" fill="#a0a0a0"/><circle cx="237" cy="296.5" r="4" fill="#d6604d"/><circle cx="231.5" cy="299.5" r="4" fill="#b2182b"/><circle cx="244.5" cy="303.5" r="4" fill="#1a1a1a"/><circle cx="202" cy="297" r="4" fill="#f4a582"/><circle cx="210" cy="304.5" r="4" fill="#d6604d"/><circle cx="219" cy="304" r="4" fill="#67001f"/><circle cx="233" cy="307.5" r="4.75" fill="#4d4d4d"/><circle cx="220.5" cy="310" r="4" fill="#878787"/><circle cx="204" cy="313.5" r="4" fill="#67001f"/><circle cx="215" cy="315" r="4.5" fill="#fef4ee"/><circle cx="221.5" cy="317" r="4" fill="#fee4d5"/><circle cx="208" cy="319" r="4.5" fill="#f4a582"/><circle cx="232" cy="318.5" r="4" fill="#fef4ee"/><circle cx="244.5" cy="321" r="4" fill="#bababa"/><circle cx="212.7" cy="327.5" r="4" fill="#1a1a1a"/><circle cx="225.5" cy="324.5" r="3.5" fill="#67001f"/><circle cx="254" cy="285" r="4.5" fill="#e0e0e0"/><circle cx="275.5" cy="284.5" r="4.5" fill="#4d4d4d"/><circle cx="269" cy="289.5" r="4" fill="#67001f"/><circle cx="290.5" cy="291" r="4" fill="#67001f"/><circle cx="295" cy="288" r="4" fill="#f8c0a4"/><circle cx="256.5" cy="297.5" r="3.5" fill="#fee4d5"/><circle cx="265.5" cy="298.5" r="4.5" fill="#fee4d5"/><circle cx="288.5" cy="301.5" r="4" fill="#1a1a1a"/><circle cx="283" cy="304.5" r="4" fill="#f8c0a4"/><circle cx="260.5" cy="309" r="5" fill="#f4a582"/><circle cx="276" cy="309.2" r="3.75" fill="#b2182b"/><circle cx="254" cy="313.5" r="4" fill="#d6604d"/><circle cx="259.5" cy="317.5" r="3.5" fill="#f8c0a4"/><circle cx="288" cy="313" r="3.75" fill="#fee4d5"/><circle cx="294.5" cy="317.5" r="4.5" fill="#e0e0e0"/><circle cx="251.5" cy="323" r="4" fill="#b2182b"/><circle cx="266.5" cy="325.5" r="4.5" fill="#4d4d4d"/><circle cx="280" cy="325" r="4.5" fill="#e0e0e0"/><circle cx="110.8" cy="333.5" r="4" fill="#bababa"/><circle cx="110.8" cy="342" r="4.5" fill="#878787"/><circle cx="110.8" cy="351.5" r="4.5" fill="#fee4d5"/><circle cx="110.8" cy="360" r="4.5" fill="#878787"/><circle cx="110.8" cy="371" r="4" fill="#f8c0a4"/><circle cx="125" cy="330" r="4.5" fill="#e58268"/><circle cx="134.5" cy="332.5" r="4" fill="#e58268"/><circle cx="141" cy="331.8" r="4" fill="#67001f"/><circle cx="117" cy="341.5" r="4.5" fill="#a0a0a0"/><circle cx="125" cy="344.5" r="4" fill="#67001f"/><circle cx="135.5" cy="341.5" r="5.5" fill="#fef4ee"/><circle cx="119.5" cy="348" r="3" fill="#d6604d"/><circle cx="130.5" cy="349.5" r="4.5" fill="#bababa"/><circle cx="143" cy="349" r="4" fill="#f4a582"/><circle cx="147" cy="354" r="4.5" fill="#bababa"/><circle cx="120" cy="355" r="4.5" fill="#f0f0f0"/><circle cx="129.5" cy="361" r="4" fill="#67001f"/><circle cx="136" cy="361.5" r="3.5" fill="#67001f"/><circle cx="146" cy="364" r="4" fill="#f4a582"/><circle cx="123.5" cy="365" r="4" fill="#878787"/><circle cx="135.5" cy="370" r="4" fill="#1a1a1a"/><circle cx="143" cy="370.5" r="4" fill="#b2182b"/><circle cx="196" cy="331" r="4.5" fill="#bababa"/><circle cx="157" cy="338" r="3.5" fill="#1a1a1a"/><circle cx="171" cy="342" r="4.5" fill="#e0e0e0"/><circle cx="182" cy="342" r="5" fill="#e0e0e0"/><circle cx="191" cy="337" r="4.5" fill="#e0e0e0"/><circle cx="197" cy="341" r="4" fill="#b2182b"/><circle cx="169.5" cy="349.8" r="4" fill="#67001f"/><circle cx="186.5" cy="349.5" r="4" fill="#4d4d4d"/><circle cx="157" cy="359" r="4" fill="#b2182b"/><circle cx="181" cy="357.8" r="4.5" fill="#878787"/><circle cx="193" cy="358" r="4.5" fill="#e0e0e0"/><circle cx="196" cy="366" r="3.5" fill="#878787"/><circle cx="152.5" cy="368" r="4" fill="#fee4d5"/><circle cx="166" cy="369" r="4" fill="#e0e0e0"/><circle cx="214.5" cy="335.5" r="4.5" fill="#bababa"/><circle cx="233" cy="336" r="4.5" fill="#e58268"/><circle cx="244" cy="335" r="4.5" fill="#e0e0e0"/><circle cx="213" cy="343" r="4.5" fill="#f0f0f0"/><circle cx="207" cy="348.5" r="4.5" fill="#e0e0e0"/><circle cx="215.5" cy="349" r="4" fill="#1a1a1a"/><circle cx="230" cy="347.5" r="5" fill="#f0f0f0"/><circle cx="241" cy="347.5" r="4.5" fill="#d6604d"/><circle cx="202" cy="355" r="4" fill="#1a1a1a"/><circle cx="241" cy="355" r="4" fill="#fef4ee"/><circle cx="213.5" cy="360.5" r="4.5" fill="#a0a0a0"/><circle cx="221.5" cy="360.2" r="4.5" fill="#67001f"/><circle cx="233" cy="359.5" r="4" fill="#67001f"/><circle cx="234" cy="365.8" r="3.5" fill="#4d4d4d"/><circle cx="202" cy="370.5" r="4" fill="#67001f"/><circle cx="215" cy="369" r="4" fill="#a0a0a0"/><circle cx="246" cy="368" r="4" fill="#4d4d4d"/><circle cx="255.5" cy="330.5" r="4.5" fill="#bababa"/><circle cx="261" cy="335.5" r="4" fill="#4d4d4d"/><circle cx="267.5" cy="336" r="4" fill="#878787"/><circle cx="255.5" cy="339" r="4" fill="#a0a0a0"/><circle cx="247.5" cy="350.5" r="4" fill="#f4a582"/><circle cx="279.5" cy="336" r="4" fill="#f4a582"/><circle cx="291" cy="333.5" r="4.5" fill="#e0e0e0"/><circle cx="283" cy="340.5" r="3.5" fill="#878787"/><circle cx="270.5" cy="347.5" r="4" fill="#4d4d4d"/><circle cx="279.8" cy="349.2" r="4.5" fill="#f8c0a4"/><circle cx="274.5" cy="354.5" r="4" fill="#1a1a1a"/><circle cx="265" cy="355" r="4.5" fill="#e0e0e0"/><circle cx="258" cy="357" r="4.5" fill="#bababa"/><circle cx="289" cy="355.2" r="4" fill="#f4a582"/><circle cx="272" cy="361.5" r="4.5" fill="#e58268"/><circle cx="279.8" cy="362" r="3.75" fill="#67001f"/><circle cx="266.5" cy="366.5" r="4.5" fill="#878787"/><circle cx="260.5" cy="370" r="4" fill="#67001f"/><circle cx="291" cy="371" r="4" fill="#fee4d5"/><circle cx="110.4" cy="376" r="4" fill="#fef4ee"/><circle cx="110.8" cy="390.8" r="3.5" fill="#67001f"/><circle cx="113" cy="399.5" r="4.5" fill="#ffffff"/><circle cx="117.6" cy="396.4" r="4.5" fill="#fee4d5"/><circle cx="118" cy="382.8" r="4.5" fill="#fee4d5"/><circle cx="120.4" cy="376.4" r="4" fill="#fee4d5"/><circle cx="126.4" cy="381.2" r="4" fill="#cdcdcd"/><circle cx="140" cy="376" r="4" fill="#878787"/><circle cx="134.4" cy="378" r="3.5" fill="#e0e0e0"/><circle cx="137.6" cy="384" r="4.5" fill="#e0e0e0"/><circle cx="143.2" cy="390.8" r="4" fill="#a0a0a0"/><circle cx="133.6" cy="394" r="2.5" fill="#67001f"/><circle cx="137.6" cy="394" r="2.5" fill="#67001f"/><circle cx="133.6" cy="401.2" r="3.75" fill="#4d4d4d"/><circle cx="150" cy="376.6" r="4.25" fill="#67001f"/><circle cx="158.8" cy="372.4" r="4.5" fill="#4d4d4d"/><circle cx="162.4" cy="378.4" r="4.5" fill="#bababa"/><circle cx="177.2" cy="371.6" r="4.5" fill="#4d4d4d"/><circle cx="187.6" cy="373.2" r="4" fill="#d6604d"/><circle cx="195.6" cy="380" r="4" fill="#1a1a1a"/><circle cx="174.4" cy="385.2" r="4" fill="#f8c0a4"/><circle cx="182" cy="383.6" r="4.5" fill="#fef4ee"/><circle cx="158" cy="384" r="2.5" fill="#d6604d"/><circle cx="190" cy="389.2" r="4" fill="#a0a0a0"/><circle cx="183.6" cy="391.6" r="4" fill="#4d4d4d"/><circle cx="175.6" cy="390.8" r="3.5" fill="#67001f"/><circle cx="156.4" cy="391.2" r="4.5" fill="#ffffff"/><circle cx="195.6" cy="395.6" r="4.5" fill="#f8c0a4"/><circle cx="151.6" cy="400.8" r="4" fill="#1a1a1a"/><circle cx="165.2" cy="400.8" r="4" fill="#67001f"/><circle cx="171.2" cy="400.8" r="4" fill="#e0e0e0"/><circle cx="180.8" cy="400.8" r="4.5" fill="#4d4d4d"/><circle cx="188.4" cy="400.8" r="4" fill="#67001f"/><circle cx="198" cy="400.8" r="4" fill="#67001f"/><circle cx="204" cy="378.4" r="4" fill="#d6604d"/><circle cx="213.6" cy="377.6" r="4.5" fill="#878787"/><circle cx="224.8" cy="379.2" r="4.5" fill="#fee4d5"/><circle cx="232.4" cy="378.8" r="4" fill="#bababa"/><circle cx="243.2" cy="378" r="4" fill="#67001f"/><circle cx="212.8" cy="387.2" r="3.5" fill="#1a1a1a"/><circle cx="203.2" cy="389.6" r="4" fill="#67001f"/><circle cx="224" cy="389.6" r="4.5" fill="#cdcdcd"/><circle cx="235.2" cy="392.8" r="4.5" fill="#b2182b"/><circle cx="242.4" cy="390.4" r="4" fill="#67001f"/><circle cx="214.8" cy="394" r="3.5" fill="#e0e0e0"/><circle cx="210.4" cy="400.8" r="4.5" fill="#ffffff"/><circle cx="219.6" cy="400.8" r="3.5" fill="#67001f"/><circle cx="232.8" cy="400.8" r="4.5" fill="#bababa"/><circle cx="248" cy="400.8" r="4.5" fill="#4d4d4d"/><circle cx="260" cy="381.2" r="4" fill="#67001f"/><circle cx="271.2" cy="378.8" r="4" fill="#67001f"/><circle cx="279.6" cy="376.8" r="4.5" fill="#e0e0e0"/><circle cx="288.4" cy="379.2" r="4" fill="#4d4d4d"/><circle cx="296.4" cy="379.6" r="4" fill="#1a1a1a"/><circle cx="256" cy="388" r="4.5" fill="#cdcdcd"/><circle cx="280.8" cy="388" r="4" fill="#f8c0a4"/><circle cx="287.6" cy="388.4" r="4" fill="#fef4ee"/><circle cx="264" cy="393.2" r="4.5" fill="#1a1a1a"/><circle cx="286" cy="395.6" r="4.5" fill="#a0a0a0"/><circle cx="262.4" cy="400.8" r="4.5" fill="#b2182b"/><circle cx="273.6" cy="400.8" r="4" fill="#1a1a1a"/><circle cx="293.2" cy="400.8" r="4.5" fill="#e0e0e0"/><circle cx="315.4" cy="379.6" r="4.5" fill="#4d4d4d"/><circle cx="328.4" cy="381.1" r="4" fill="#4d4d4d"/><circle cx="338.7" cy="377.7" r="4.5" fill="#bababa"/><circle cx="320.7" cy="389.3" r="4" fill="#a0a0a0"/><circle cx="329.3" cy="392.7" r="4.5" fill="#ffffff"/><circle cx="332.7" cy="388.4" r="3.5" fill="#67001f"/><circle cx="306.1" cy="392.3" r="4.5" fill="#e0e0e0"/><circle cx="348.1" cy="391.9" r="3.5" fill="#f8c0a4"/><circle cx="313" cy="400.8" r="4" fill="#cdcdcd"/><circle cx="320.7" cy="400.8" r="3.75" fill="#67001f"/><circle cx="335.3" cy="400.8" r="4.5" fill="#4d4d4d"/><circle cx="346.4" cy="400.8" r="4.5" fill="#e0e0e0"/><circle cx="356.6" cy="380" r="4.5" fill="#fef4ee"/><circle cx="358.2" cy="387.8" r="4" fill="#bababa"/><circle cx="364.4" cy="389.9" r="4.5" fill="#a0a0a0"/><circle cx="383.9" cy="388.7" r="4.5" fill="#bababa"/><circle cx="355.4" cy="401" r="3.5" fill="#67001f"/><circle cx="369.6" cy="401" r="4.5" fill="#878787"/><circle cx="389.4" cy="401" r="4" fill="#a0a0a0"/><circle cx="397.4" cy="401" r="4" fill="#67001f"/><circle cx="442.9" cy="360.3" r="4.5" fill="#1a1a1a"/></g>
<g><text x="78.4" y="405.30" text-anchor="end">0</text><text x="78.4" y="367.68" text-anchor="end">10</text><text x="78.4" y="330.05" text-anchor="end">20</text><text x="78.4" y="292.43" text-anchor="end">30</text><text x="78.4" y="254.80" text-anchor="end">40</text><text x="78.4" y="217.18" text-anchor="end">50</text><text x="78.4" y="179.55" text-anchor="end">60</text><text x="78.4" y="141.93" text-anchor="end">70</text><text x="78.4" y="104.30" text-anchor="end">80</text></g>
<g><text x="111.00" y="432.8" text-anchor="middle">0</text><text x="234.25" y="432.8" text-anchor="middle">20</text><text x="357.50" y="432.8" text-anchor="middle">40</text><text x="480.75" y="432.8" text-anchor="middle">60</text><text x="604.00" y="432.8" text-anchor="middle">80</text></g>
<text x="341.8" y="471.9" text-anchor="middle" style="font-size:14px" textLength="59" lengthAdjust="spacingAndGlyphs">A density</text>
<text transform="translate(42.2,259.9) rotate(-90)" text-anchor="middle" style="font-size:14px" textLength="58.3" lengthAdjust="spacingAndGlyphs">T density</text>
<rect x="624.5" y="132.1" width="30" height="277.8" fill="url(#cb)"/>
<text x="624.8" y="121.9" textLength="39.8" lengthAdjust="spacingAndGlyphs">log2 FC</text>
<g><text x="657.7" y="136.40">0.3</text><text x="657.7" y="182.70">0.2</text><text x="657.7" y="229.00">0.1</text><text x="657.7" y="275.30">0</text><text x="657.7" y="321.60">−0.1</text><text x="657.7" y="367.90">−0.2</text><text x="657.7" y="414.20">−0.3</text></g>
</svg>
</body></html>
